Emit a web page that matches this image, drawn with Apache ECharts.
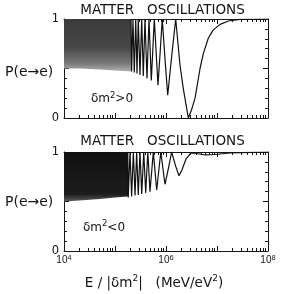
<!DOCTYPE html>
<html><head><meta charset="utf-8">
<script src="https://cdn.jsdelivr.net/npm/echarts@6/dist/echarts.min.js"></script>
<style>html,body{margin:0;padding:0;background:#fff}#c{width:301px;height:294px}</style>
</head><body><div id="c"></div>
<script>
// ---------- data ----------
// Top panel (dm^2 > 0): fast-oscillation band (lower envelope, upper = 1)
const bandTopE = [1e4, 2e4, 5e4, 1e5, 2.06e5];
const bandTopLow = [0.50, 0.50, 0.49, 0.48, 0.47];
// Top panel resolved oscillations
const oscTopE = [2.06e5, 2.12e5, 2.25e5, 2.39e5, 2.55e5, 2.70e5, 2.86e5, 3.09e5, 3.34e5, 3.59e5, 3.87e5,
  4.24e5, 4.64e5, 5.15e5, 5.90e5, 6.97e5, 7.69e5, 8.45e5, 9.55e5, 1.08e6, 1.29e6, 1.55e6, 1.88e6, 2.18e6,
  2.74e6, 3.16e6, 3.71e6, 4.65e6, 5.39e6, 6.75e6, 8.45e6, 1.15e7, 1.67e7, 2.82e7, 1e8];
const oscTopP = [1.0, 0.47, 1.0, 0.46, 1.0, 0.45, 1.0, 0.435, 1.0, 0.425, 1.0,
  0.40, 1.0, 0.38, 1.0, 0.33, 0.67, 1.0, 0.60, 0.23, 0.62, 1.0, 0.535, 0.30,
  0.0, 0.08, 0.20, 0.50, 0.65, 0.805, 0.89, 0.946, 0.98, 0.997, 1.0];
// Bottom panel (dm^2 < 0)
const bandBotE = [1e4, 2e4, 5e4, 1e5, 1.80e5];
const bandBotLow = [0.50, 0.51, 0.525, 0.54, 0.55];
const oscBotE = [1.78e5, 1.82e5, 1.97e5, 2.12e5, 2.29e5, 2.47e5, 2.66e5, 2.86e5, 3.09e5, 3.34e5, 3.66e5,
  4.0e5, 4.40e5, 4.85e5, 5.64e5, 6.57e5, 7.91e5, 9.55e5, 1.11e6, 1.29e6, 1.54e6, 1.80e6, 2.06e6,
  2.47e6, 3.09e6, 4.06e6, 5.82e6, 9.14e6, 1.80e7, 4.44e7, 1e8];
const oscBotP = [1.0, 0.54, 1.0, 0.55, 1.0, 0.56, 1.0, 0.566, 1.0, 0.576, 1.0,
  0.586, 1.0, 0.60, 1.0, 0.616, 1.0, 0.674, 0.83, 1.0, 0.86, 0.76, 0.82,
  0.93, 0.99, 0.985, 0.97, 0.975, 0.99, 0.997, 1.0];
// Axis ticks / labels
const decadeTicks = [1e4, 1e5, 1e6, 1e7, 1e8];
const minorMultipliers = [2, 3, 4, 5, 6, 7, 8, 9];
const xLabelValues = [1e4, 1e6, 1e8];
const yLabelValues = [0, 1];
const titleText = 'MATTER   OSCILLATIONS';
const yName = 'P(e\u2192e)';
const panelNotes = ['>0', '<0'];

// ---------- chart ----------
const minorTicks = [];
decadeTicks.slice(0, -1).forEach(d => minorMultipliers.forEach(m => minorTicks.push(d * m)));
const zip = (a, b) => a.map((v, i) => [v, b[i]]);
const FONT = 'DejaVu Sans';
const INK = '#151515';
const grids = [
  { left: 64, top: 19, width: 204, height: 99 },
  { left: 64, top: 152, width: 204, height: 99 }
];
const xAxes = [], yAxes = [];
grids.forEach((g, gi) => {
  ['bottom', 'top'].forEach(pos => {
    xAxes.push({
      gridIndex: gi, type: 'log', logBase: 10, min: 1e4, max: 1e8, position: pos,
      axisLine: { show: true, onZero: false, lineStyle: { color: INK, width: 1 } },
      axisTick: { show: true, inside: true, length: 3, customValues: minorTicks, lineStyle: { color: INK, width: 1 } },
      axisLabel: {
        show: gi === 1 && pos === 'bottom', customValues: xLabelValues, margin: 3,
        formatter: v => '{b|10}{s|' + Math.round(Math.log10(v)) + '}',
        rich: {
          b: { fontSize: 10, fontFamily: 'Liberation Sans', color: INK, lineHeight: 13 },
          s: { fontSize: 7.5, fontFamily: 'Liberation Sans', color: INK, lineHeight: 7, verticalAlign: 'top' }
        }
      },
      splitLine: { show: false }
    });
    xAxes.push({
      gridIndex: gi, type: 'log', logBase: 10, min: 1e4, max: 1e8, position: pos,
      axisLine: { show: false, onZero: false },
      axisTick: { show: true, inside: true, length: 5, customValues: decadeTicks, lineStyle: { color: INK, width: 1 } },
      axisLabel: { show: false }, splitLine: { show: false }
    });
  });
  ['left', 'right'].forEach(pos => {
    yAxes.push({
      gridIndex: gi, type: 'value', min: 0, max: 1, interval: 0.5, position: pos,
      axisLine: { show: true, onZero: false, lineStyle: { color: INK, width: 1 } },
      axisTick: { show: true, inside: true, length: 5, lineStyle: { color: INK, width: 1 } },
      minorTick: { show: true, splitNumber: 5, length: 3, lineStyle: { color: INK, width: 1 } },
      axisLabel: {
        show: pos === 'left', customValues: yLabelValues, margin: 5,
        fontSize: 11.5, fontFamily: FONT, color: INK, formatter: v => String(v)
      },
      splitLine: { show: false }
    });
  });
});
const bandColor = (dark) => new echarts.graphic.LinearGradient(0, 0, 0, 1, dark ? [
  { offset: 0, color: '#101010' }, { offset: 0.85, color: '#1c1c1c' }, { offset: 1, color: '#5a5a5a' }
] : [
  { offset: 0, color: '#3a3a3a' }, { offset: 0.55, color: '#484848' }, { offset: 0.85, color: '#7a7a7a' }, { offset: 1, color: '#b0b0b0' }
]);
const series = [
  { type: 'line', xAxisIndex: 0, yAxisIndex: 0, data: zip(bandTopE, bandTopLow), symbol: 'none', silent: true,
    lineStyle: { width: 0, opacity: 0 }, areaStyle: { origin: 'end', color: bandColor(false), opacity: 1 } },
  { type: 'line', xAxisIndex: 0, yAxisIndex: 0, data: zip(oscTopE, oscTopP), symbol: 'none', silent: true,
    lineStyle: { color: '#111', width: 1.2 } },
  { type: 'line', xAxisIndex: 4, yAxisIndex: 2, data: zip(bandBotE, bandBotLow), symbol: 'none', silent: true,
    lineStyle: { width: 0, opacity: 0 }, areaStyle: { origin: 'end', color: bandColor(true), opacity: 1 } },
  { type: 'line', xAxisIndex: 4, yAxisIndex: 2, data: zip(oscBotE, oscBotP), symbol: 'none', silent: true,
    lineStyle: { color: '#111', width: 1.2 } }
];
const mkRich = (size, sup) => ({
  a: { fontSize: size, fontFamily: FONT, fill: INK, lineHeight: size + 4 },
  s: { fontSize: sup, fontFamily: FONT, fill: INK, lineHeight: sup, verticalAlign: 'top' }
});
const txt = (x, y, text, size, align) => ({
  type: 'text', x, y, silent: true,
  style: { text, fontSize: size, fontFamily: FONT, fill: INK, align: align || 'center', verticalAlign: 'middle' }
});
const graphic = [
  txt(162.5, 10, titleText, 13.5),
  txt(162.5, 141, titleText, 13.5),
  txt(5, 72, yName, 14, 'left'),
  txt(5, 202, yName, 14, 'left'),
  { type: 'text', x: 112, y: 99, silent: true,
    style: { text: '{a|\u03b4m}{s|2}{a|' + panelNotes[0] + '}', rich: mkRich(12, 8.5), align: 'center', verticalAlign: 'middle' } },
  { type: 'text', x: 104, y: 227.5, silent: true,
    style: { text: '{a|\u03b4m}{s|2}{a|' + panelNotes[1] + '}', rich: mkRich(12, 8.5), align: 'center', verticalAlign: 'middle' } },
  { type: 'text', x: 154, y: 283, silent: true,
    style: { text: '{a|E / |\u03b4m}{s|2}{a||   (MeV/eV}{s|2}{a|)}', rich: mkRich(13.5, 9), align: 'center', verticalAlign: 'middle' } }
];
const chart = echarts.init(document.getElementById('c'), null, { renderer: 'canvas' });
chart.setOption({
  animation: false,
  backgroundColor: '#fff',
  grid: grids.map(g => Object.assign({ containLabel: false, outerBoundsMode: 'none' }, g)),
  xAxis: xAxes, yAxis: yAxes, series, graphic
});
</script></body></html>
